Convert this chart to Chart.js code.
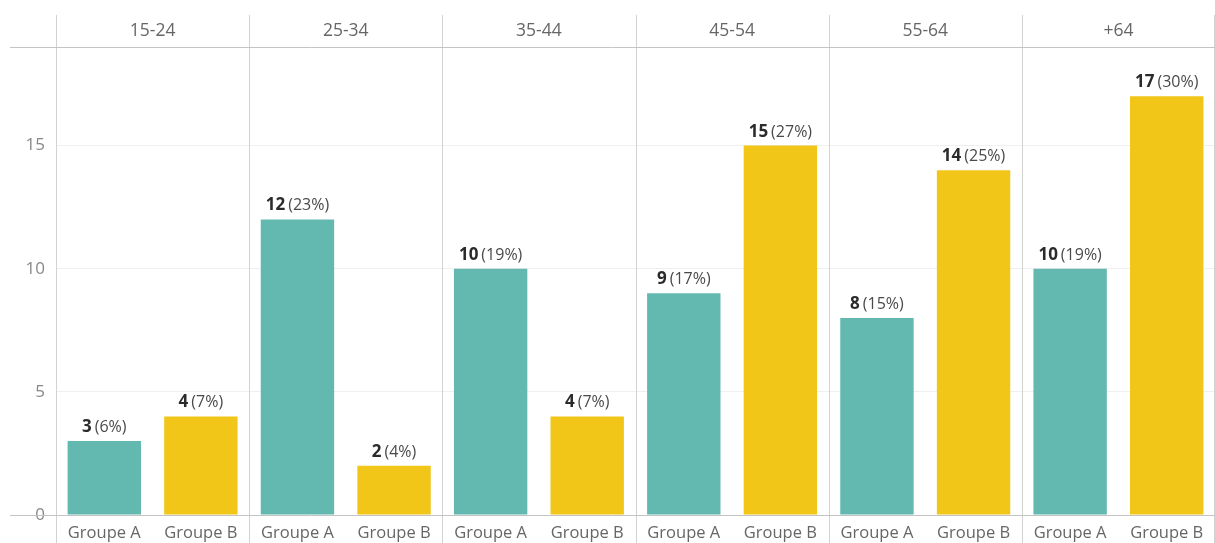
<!DOCTYPE html>
<html>
<head>
<meta charset="utf-8">
<script src="https://cdn.jsdelivr.net/npm/chart.js@4.4.1/dist/chart.umd.min.js"></script>
<style>
  html, body { margin: 0; padding: 0; background: #fff; }
  #wrap { width: 1215px; height: 543px; position: relative; }
</style>
</head>
<body>
<div id="wrap"><canvas id="age-chart"></canvas></div>
<script>
// Age groups (top header) and the two groups inside each panel
const ageGroups = ['15-24', '25-34', '35-44', '45-54', '55-64', '+64'];
const groupNames = ['Groupe A', 'Groupe B'];
const groupACounts = [3, 12, 10, 9, 8, 10];
const groupBCounts = [4, 2, 4, 15, 14, 17];
const groupAPercents = [6, 23, 19, 17, 15, 19];
const groupBPercents = [7, 4, 7, 27, 25, 30];
const yTicks = [0, 5, 10, 15];

const groupColors = ['#63b8b0', '#f1c619'];
const fontFamily = '"Open Sans", "Noto Sans", sans-serif';

// flatten panels into one category axis: A, B, A, B, ...
const barLabels = ageGroups.flatMap(() => groupNames);
const barValues = ageGroups.flatMap((g, i) => [groupACounts[i], groupBCounts[i]]);
const barPercents = ageGroups.flatMap((g, i) => [groupAPercents[i], groupBPercents[i]]);
const barColors = ageGroups.flatMap(() => groupColors);

// panel separators + header / baseline rules
const panelLines = {
    id: 'panelLines',
    beforeDatasetsDraw(chart) {
        const { ctx, chartArea, scales } = chart;
        const x = scales.x;
        ctx.save();
        ctx.lineWidth = 1;
        ctx.strokeStyle = '#d2d2d2';
        for (let i = 0; i <= ageGroups.length; i++) {
            let px;
            if (i === 0) px = chartArea.left;
            else if (i === ageGroups.length) px = chartArea.right - 1;
            else px = (x.getPixelForValue(2 * i - 1) + x.getPixelForValue(2 * i)) / 2;
            px = Math.round(px) + 0.5;
            ctx.beginPath();
            ctx.moveTo(px, 15);
            ctx.lineTo(px, chart.height);
            ctx.stroke();
        }
        ctx.strokeStyle = '#c4c4c4';
        [chartArea.top, chartArea.bottom].forEach(py => {
            py = Math.round(py) + 0.5;
            ctx.beginPath();
            ctx.moveTo(10, py);
            ctx.lineTo(chartArea.right, py);
            ctx.stroke();
        });
        ctx.restore();
    }
};

// "value (pct%)" above each bar, value in bold
const barValueLabels = {
    id: 'barValueLabels',
    afterDatasetsDraw(chart) {
        const { ctx } = chart;
        const meta = chart.getDatasetMeta(0);
        ctx.save();
        ctx.textBaseline = 'alphabetic';
        ctx.textAlign = 'left';
        meta.data.forEach((bar, i) => {
            const num = String(barValues[i]);
            const pct = '(' + barPercents[i] + '%)';
            ctx.font = 'bold 17px ' + fontFamily;
            const wNum = ctx.measureText(num).width;
            ctx.font = '16px ' + fontFamily;
            const wPct = ctx.measureText(pct).width;
            const gap = 3;
            const start = bar.x - (wNum + gap + wPct) / 2;
            const y = bar.y - 9;
            ctx.font = 'bold 17px ' + fontFamily;
            ctx.fillStyle = '#2b2b2b';
            ctx.fillText(num, start, y);
            ctx.font = '16px ' + fontFamily;
            ctx.fillStyle = '#4a4a4a';
            ctx.fillText(pct, start + wNum + gap, y);
        });
        ctx.restore();
    }
};

const ageCtx = document.getElementById('age-chart').getContext('2d');
const ageChart = new Chart(ageCtx, {
    type: 'bar',
    data: {
        labels: barLabels,
        datasets: [{
            label: 'Effectif',
            data: barValues,
            backgroundColor: barColors,
            borderWidth: 0,
            categoryPercentage: 1,
            barPercentage: 0.76
        }]
    },
    options: {
        responsive: true,
        maintainAspectRatio: false,
        animation: false,
        layout: { padding: { left: 0, right: 0, top: 0, bottom: 0 } },
        plugins: {
            legend: { display: false },
            tooltip: { enabled: false }
        },
        scales: {
            x: {
                position: 'bottom',
                grid: { display: false },
                border: { display: false },
                ticks: {
                    color: '#666',
                    font: { family: fontFamily, size: 16.5 },
                    padding: 0,
                    maxRotation: 0,
                    autoSkip: false
                },
                afterFit: s => { s.height = 28; }
            },
            x2: {
                type: 'category',
                labels: ageGroups,
                position: 'top',
                offset: true,
                grid: { display: false },
                border: { display: false },
                ticks: {
                    color: '#666',
                    font: { family: fontFamily, size: 17.5 },
                    padding: -3,
                    maxRotation: 0
                },
                afterFit: s => { s.height = 47; }
            },
            y: {
                min: 0,
                max: 19,
                border: { display: false },
                grid: {
                    drawTicks: false,
                    color: ctx => ctx.tick && ctx.tick.value === 0 ? 'transparent' : '#efefef'
                },
                ticks: {
                    color: '#888',
                    font: { family: fontFamily, size: 17 },
                    padding: 11
                },
                afterBuildTicks: s => { s.ticks = yTicks.map(v => ({ value: v })); },
                afterFit: s => { s.width = 56; }
            }
        }
    },
    plugins: [panelLines, barValueLabels]
});
</script>
</body>
</html>
